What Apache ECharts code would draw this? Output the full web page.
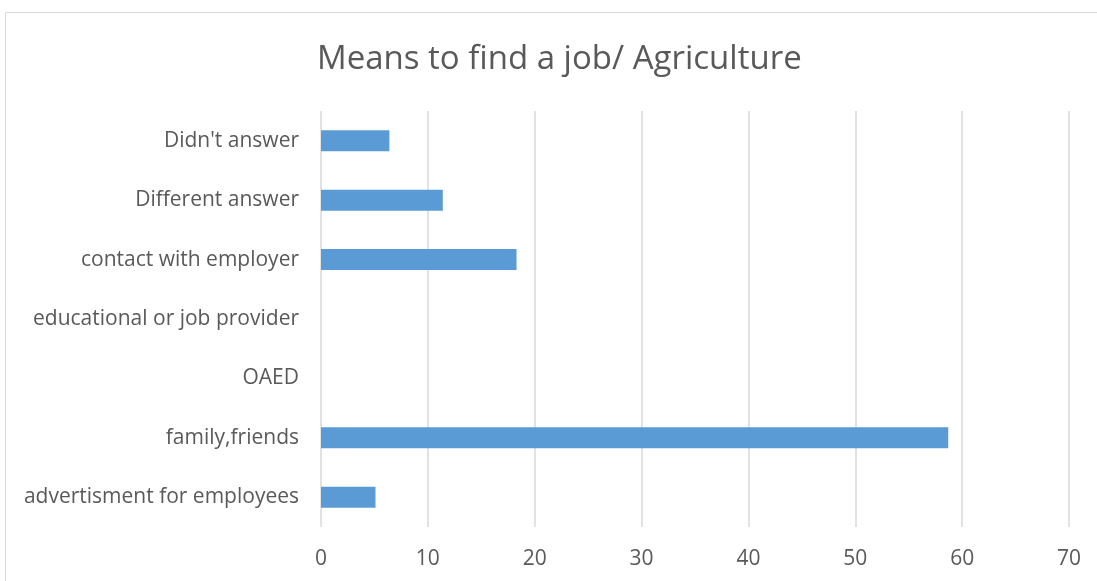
<!DOCTYPE html>
<html><head><meta charset="utf-8">
<script src="https://cdn.jsdelivr.net/npm/echarts@6/dist/echarts.min.js"></script>
<style>html,body{margin:0;padding:0;background:#fff}#c{width:1097px;height:581px}</style>
</head><body><div id="c"></div>
<script>
const categories = ["advertisment for employees","family,friends","OAED","educational or job provider","contact with employer","Different answer","Didn't answer"];
const values = [5.1, 58.7, 0, 0, 18.3, 11.4, 6.4];
const xTicks = [0,10,20,30,40,50,60,70];
const FONT = "Open Sans";
const chart = echarts.init(document.getElementById('c'));
chart.setOption({
  animation:false,
  backgroundColor:'#fff',
  textStyle:{fontFamily:FONT},
  graphic:[{type:'rect',shape:{x:5.5,y:12.5,width:1100,height:580},style:{fill:'none',stroke:'#d9d9d9',lineWidth:1},silent:true}],
  title:{text:'Means to find a job/ Agriculture',left:312,top:38,textStyle:{fontFamily:FONT,fontSize:33,fontWeight:'normal',color:'#595959'}},
  grid:{left:321,right:28,top:111,bottom:54,containLabel:false},
  xAxis:{type:'value',min:xTicks[0],max:xTicks[xTicks.length-1],interval:10,
    axisLine:{show:false},axisTick:{show:false},
    axisLabel:{color:'#595959',fontSize:21,margin:22,fontFamily:FONT},
    splitLine:{lineStyle:{color:'#d9d9d9',width:1.5}}},
  yAxis:{type:'category',data:categories,
    axisLine:{show:false},axisTick:{show:false},
    axisLabel:{color:'#595959',fontSize:21,margin:22,fontFamily:FONT},
    splitLine:{show:false}},
  series:[{type:'bar',data:values,barWidth:21,itemStyle:{color:'#5b9bd5'}}]
});
</script></body></html>
